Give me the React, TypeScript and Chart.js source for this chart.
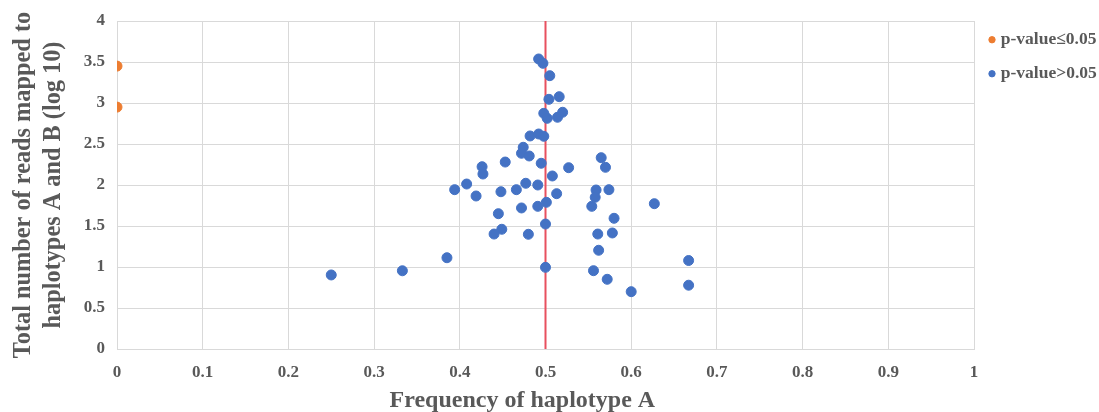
import React, { useEffect, useRef } from 'react';
import { Chart, registerables } from 'chart.js';

Chart.register(...registerables);

// Significant (p-value ≤ 0.05)
const sigFreq = [0, 0];
const sigLogReads = [3.45, 2.95];

// Non-significant (p-value > 0.05)
const nsFreq = [
  0.492, 0.497, 0.505, 0.504, 0.516, 0.498, 0.502, 0.514, 0.52, 0.482,
  0.492, 0.498, 0.474, 0.472, 0.481, 0.453, 0.426, 0.427, 0.495, 0.527,
  0.565, 0.57, 0.508, 0.408, 0.394, 0.419, 0.448, 0.466, 0.477, 0.491,
  0.513, 0.501, 0.491, 0.472, 0.445, 0.559, 0.574, 0.558, 0.554, 0.627,
  0.58, 0.5, 0.449, 0.44, 0.48, 0.561, 0.578, 0.562, 0.5, 0.556,
  0.572, 0.6, 0.667, 0.667, 0.385, 0.333, 0.25,
];
const nsLogReads = [
  3.537, 3.484, 3.333, 3.045, 3.077, 2.874, 2.813, 2.826, 2.887, 2.598,
  2.622, 2.594, 2.46, 2.387, 2.354, 2.28, 2.223, 2.134, 2.265, 2.211,
  2.333, 2.216, 2.11, 2.012, 1.943, 1.866, 1.918, 1.943, 2.021, 2.0,
  1.894, 1.789, 1.74, 1.72, 1.65, 1.939, 1.943, 1.85, 1.74, 1.772,
  1.594, 1.524, 1.46, 1.402, 1.399, 1.402, 1.415, 1.204, 0.996, 0.955,
  0.85, 0.699, 1.079, 0.778, 1.113, 0.954, 0.903,
];

// Reference line at frequency 0.5
const refLineX = [0.5, 0.5];
const refLineY = [0, 4];

const xTickLabels = ['0', '0.1', '0.2', '0.3', '0.4', '0.5', '0.6', '0.7', '0.8', '0.9', '1'];
const yTickLabels = ['0', '0.5', '1', '1.5', '2', '2.5', '3', '3.5', '4'];
const seriesNames = ['p-value≤0.05', 'p-value>0.05'];
const xTitle = 'Frequency of haplotype A';
const yTitle = ['Total number of reads mapped to', 'haplotypes A and B (log 10)'];

const FONT = "'Liberation Serif', 'Times New Roman', serif";
const GRAY = '#595959';

// Draws the x-axis title slightly left of centre, as in the original figure.
const xTitlePlugin = {
  id: 'xTitlePlugin',
  afterDraw(chart: any) {
    const { ctx, chartArea } = chart;
    ctx.save();
    ctx.font = `bold 24px ${FONT}`;
    ctx.fillStyle = GRAY;
    ctx.textAlign = 'center';
    ctx.textBaseline = 'alphabetic';
    const cx = chartArea.left + (chartArea.right - chartArea.left) * 0.473;
    ctx.fillText(xTitle, cx, chartArea.bottom + 58);
    ctx.restore();
  },
};

export default function App() {
  const ref = useRef<HTMLCanvasElement | null>(null);

  useEffect(() => {
    if (!ref.current) return;
    const toPts = (xs: number[], ys: number[]) => xs.map((x, i) => ({ x, y: ys[i] }));
    const chart = new Chart(ref.current, {
      type: 'scatter',
      data: {
        datasets: [
          {
            label: seriesNames[0],
            data: toPts(sigFreq, sigLogReads),
            backgroundColor: '#ED7D31',
            borderColor: '#ED7D31',
            borderWidth: 1,
            pointRadius: 5,
            pointStyle: 'circle',
          },
          {
            label: seriesNames[1],
            data: toPts(nsFreq, nsLogReads),
            backgroundColor: '#4472C4',
            borderColor: '#4472C4',
            borderWidth: 1,
            pointRadius: 5,
            pointStyle: 'circle',
          },
          {
            label: 'ref',
            data: toPts(refLineX, refLineY),
            showLine: true,
            borderColor: 'rgb(232,80,95)',
            backgroundColor: 'rgb(232,80,95)',
            borderWidth: 2,
            pointRadius: 0,
          },
        ],
      },
      options: {
        animation: false,
        responsive: false,
        layout: { padding: { top: 13, right: 0, left: 0, bottom: 0 } },
        plugins: {
          tooltip: { enabled: false },
          legend: {
            position: 'right',
            align: 'start',
            maxWidth: 125,
            labels: {
              usePointStyle: true,
              boxWidth: 0.01,
              boxHeight: 4.5,
              padding: 18,
              color: GRAY,
              font: { family: FONT, size: 17.5, weight: 'bold', lineHeight: '16px' },
              filter: (item: any) => item.datasetIndex < 2,
              generateLabels: (c: any) =>
                (Chart.defaults.plugins.legend.labels as any)
                  .generateLabels(c)
                  .map((l: any) => ({ ...l, text: [l.text] })),
            },
          },
        },
        scales: {
          x: {
            type: 'linear',
            min: 0,
            max: 1,
            ticks: {
              stepSize: 0.1,
              padding: 13,
              color: GRAY,
              font: { family: FONT, size: 17, weight: 'bold' },
              callback: (_v: any, i: number) => xTickLabels[i],
            },
            grid: { color: '#D9D9D9', lineWidth: 1, drawTicks: false },
            border: { color: '#D9D9D9' },
            title: { display: false, text: xTitle },
            afterFit: (s: any) => {
              s.height = 63;
            },
          },
          y: {
            type: 'linear',
            min: 0,
            max: 4,
            ticks: {
              stepSize: 0.5,
              padding: 12,
              color: GRAY,
              font: { family: FONT, size: 17, weight: 'bold' },
              callback: (_v: any, i: number) => yTickLabels[i],
            },
            grid: { color: '#D9D9D9', lineWidth: 1, drawTicks: false },
            border: { color: '#D9D9D9' },
            title: {
              display: true,
              text: yTitle,
              color: GRAY,
              font: { family: FONT, size: 24.3, weight: 'bold', lineHeight: '30px' },
              padding: { top: 9, bottom: 0 },
            },
            afterFit: (s: any) => {
              s.width = 117;
              s.paddingTop = 21;
            },
          },
        },
      } as any,
      plugins: [xTitlePlugin],
    });
    return () => chart.destroy();
  }, []);

  return (
    <div style={{ position: 'fixed', left: 0, top: 0, width: 1099, height: 412, background: '#fff' }}>
      <canvas ref={ref} width={1099} height={412} />
    </div>
  );
}
